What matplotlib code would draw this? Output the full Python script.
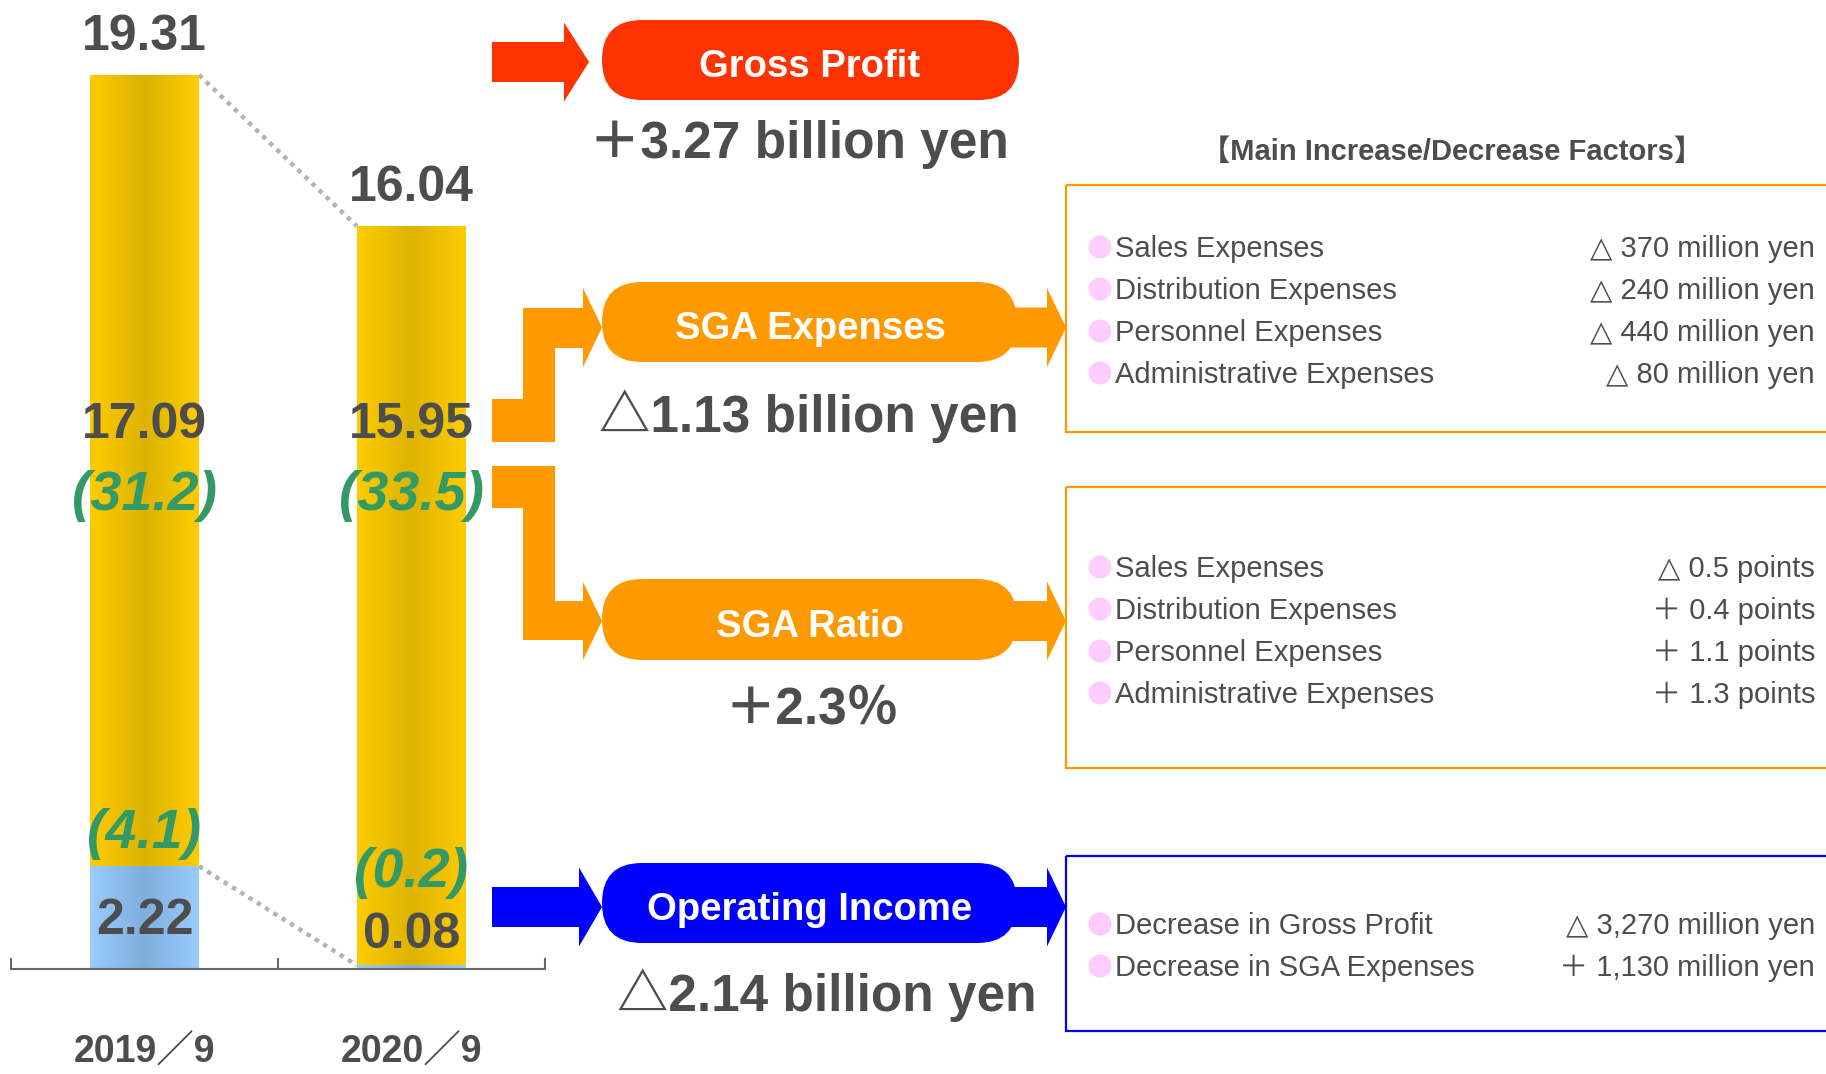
"""Gross profit / SGA / operating income bridge, 2019/9 vs 2020/9."""

import matplotlib
matplotlib.use("Agg")
import matplotlib.pyplot as plt
import numpy as np
from matplotlib.colors import LinearSegmentedColormap
from matplotlib.patches import Circle, FancyBboxPatch, Polygon, Rectangle

# --- data (billion yen, %) ---
periods = ["2019／9", "2020／9"]
gross_profit = [19.31, 16.04]
sga_expenses = [17.09, 15.95]
sga_ratio = [31.2, 33.5]
operating_income = [2.22, 0.08]
operating_margin = [4.1, 0.2]

step_names = ["Gross Profit", "SGA Expenses", "SGA Ratio", "Operating Income"]
step_changes = ["＋3.27 billion yen", "△1.13 billion yen", "＋2.3％", "△2.14 billion yen"]

sga_items = ["Sales Expenses", "Distribution Expenses", "Personnel Expenses", "Administrative Expenses"]
sga_item_changes = ["△ 370 million yen", "△ 240 million yen", "△ 440 million yen", "△ 80 million yen"]
ratio_item_changes = ["△ 0.5 points", "＋ 0.4 points", "＋ 1.1 points", "＋ 1.3 points"]
oi_items = ["Decrease in Gross Profit", "Decrease in SGA Expenses"]
oi_item_changes = ["△ 3,270 million yen", "＋ 1,130 million yen"]

# --- style ---
TEXT = "#4D4D4D"
GREEN = "#339966"
RED = "#FF3300"
ORANGE = "#FF9900"
BLUE = "#0000FF"
PINK = "#FFCCFF"
SANS = ["Liberation Sans", "DejaVu Sans", "Noto Sans CJK JP"]
BIG = ["Liberation Sans", "Noto Sans CJK JP"]

W, H = 1826, 1074
BASE = 969          # pixel row of the bar baseline
PX_PER_UNIT = 46.3  # pixels per billion yen

fig = plt.figure(figsize=(W / 100, H / 100), dpi=100)

# pixel canvas for the diagram part
canvas = fig.add_axes([0, 0, 1, 1])
canvas.set_xlim(0, W)
canvas.set_ylim(H, 0)
canvas.axis("off")

# --- bar chart ---
ax = fig.add_axes([11 / W, (H - BASE) / H, 534 / W, BASE / H])
x = np.arange(len(periods))
width = 0.408
oi = np.array(operating_income)
gp = np.array(gross_profit)
blue_bars = ax.bar(x, oi, width, color="#99CCFF", zorder=2)
gold_bars = ax.bar(x, gp - oi, width, bottom=oi, color="#FFCC00", zorder=2)


def shade(bars, colors):
    cmap = LinearSegmentedColormap.from_list("shade", colors)
    ramp = np.linspace(0, 1, 200)[None, :]
    for bar in bars:
        x0, y0 = bar.get_x(), bar.get_y()
        img = ax.imshow(ramp, cmap=cmap, aspect="auto", interpolation="bilinear",
                        extent=(x0, x0 + bar.get_width(), y0, y0 + bar.get_height()), zorder=2.5)
        img.set_clip_path(bar)


shade(gold_bars, ["#FFCC00", "#DCB300", "#FFCC00"])
shade(blue_bars, ["#99CCFF", "#80AEDD", "#99CCFF"])

dots = dict(color="#B3B3B3", lw=3.2, ls=(0, (1, 1.2)), dash_capstyle="butt", zorder=1)
ax.plot([x[0] + width / 2, x[1] - width / 2], gp, **dots)
ax.plot([x[0] + width / 2, x[1] - width / 2], oi, **dots)

ax.set_xlim(-0.5, 1.5)
ax.set_ylim(0, BASE / PX_PER_UNIT)
ax.patch.set_alpha(0)
for side in ("left", "right", "top"):
    ax.spines[side].set_visible(False)
ax.spines["bottom"].set_color("#666666")
ax.spines["bottom"].set_linewidth(1.5)
ax.set_yticks([])
ax.set_xticks([-0.5, 0.5, 1.5])
ax.tick_params(axis="x", which="major", direction="in", length=8, width=1.5,
               color="#666666", labelbottom=False)
ax.set_xticks(x, periods, minor=True)
ax.tick_params(axis="x", which="minor", length=0, pad=47, labelsize=27, labelcolor=TEXT)
for lbl in ax.get_xticklabels(minor=True):
    lbl.set_fontfamily(SANS)
    lbl.set_fontweight("bold")

num = dict(ha="center", va="baseline", color=TEXT, fontsize=36, fontweight="bold",
           fontfamily=SANS, zorder=5)
pct = dict(ha="center", va="baseline", color=GREEN, fontsize=40, fontweight="bold",
           fontstyle="italic", fontfamily=SANS, zorder=5)
SGA_ROW, RATIO_ROW = 11.47, 9.91
margin_rows = [2.61, 1.77]
oi_rows = [0.76, 0.45]
for i in range(len(periods)):
    ax.annotate(f"{gross_profit[i]:.2f}", (x[i], gross_profit[i]), xytext=(0, 18),
                textcoords="offset points", **num)
    ax.text(x[i], SGA_ROW, f"{sga_expenses[i]:.2f}", **num)
    ax.text(x[i], RATIO_ROW, f"({sga_ratio[i]:.1f})", **pct)
    ax.text(x[i], margin_rows[i], f"({operating_margin[i]:.1f})", **pct)
    ax.text(x[i], oi_rows[i], f"{operating_income[i]:.2f}", **num)

# --- arrows and pills ---
def block_arrow(x0, x1, yc, color, shaft=20, head=39.5, head_len=19):
    pts = [(x0, yc - shaft), (x1 - head_len, yc - shaft), (x1 - head_len, yc - head), (x1, yc),
           (x1 - head_len, yc + head), (x1 - head_len, yc + shaft), (x0, yc + shaft)]
    canvas.add_patch(Polygon(pts, closed=True, fc=color, ec="none"))


def pill(y0, y1, color, x0=602, x1=1017):
    canvas.add_patch(FancyBboxPatch((x0, y0), x1 - x0, y1 - y0,
                                    boxstyle=f"round,pad=0,rounding_size={(y1 - y0) / 2}",
                                    fc=color, ec="none"))


block_arrow(492, 589, 62, RED, head_len=25)
pill(20, 100, RED, x1=1019)

# elbow from the SGA level into the two orange steps
canvas.add_patch(Polygon([(492, 399), (523, 399), (523, 308), (583, 308), (583, 288), (602, 327.5),
                          (583, 367), (583, 348), (555, 348), (555, 442), (492, 442)],
                         closed=True, fc=ORANGE, ec="none"))
canvas.add_patch(Polygon([(492, 466), (555, 466), (555, 601), (583, 601), (583, 582), (602, 621),
                          (583, 660), (583, 640), (523, 640), (523, 508), (492, 508)],
                         closed=True, fc=ORANGE, ec="none"))
block_arrow(990, 1066, 327.5, ORANGE)
pill(282, 362, ORANGE)
block_arrow(990, 1066, 621, ORANGE)
pill(579, 660, ORANGE)

block_arrow(492, 602, 907, BLUE, head_len=23)
block_arrow(990, 1066, 907, BLUE)
pill(863, 943, BLUE)

name_base = [77, 339, 637, 920]
change_x = [799, 809, 812, 827]
change_base = [158, 432, 724, 1011]
for name, change, nb, cx, cb in zip(step_names, step_changes, name_base, change_x, change_base):
    canvas.text(810, nb, name, ha="center", va="baseline", color="white", fontsize=27.5,
                fontweight="bold", fontfamily=BIG)
    canvas.text(cx, cb, change, ha="center", va="baseline", color=TEXT, fontsize=37,
                fontweight="bold", fontfamily=BIG)

# --- factor boxes ---
canvas.text(1452, 160, "【Main Increase/Decrease Factors】", ha="center", va="baseline",
            color=TEXT, fontsize=21, fontweight="bold", fontfamily=SANS)
canvas.add_patch(Rectangle((1066, 185), 800, 247, fill=False, ec=ORANGE, lw=1.6))
canvas.add_patch(Rectangle((1066, 487), 800, 281, fill=False, ec=ORANGE, lw=1.6))
canvas.add_patch(Rectangle((1066, 856), 800, 175, fill=False, ec=BLUE, lw=1.6))


def factor_rows(labels, values, first_base, step=42):
    for k, (lab, val) in enumerate(zip(labels, values)):
        yb = first_base + k * step
        canvas.add_patch(Circle((1100, yb - 10), 11.5, fc=PINK, ec="none"))
        canvas.text(1115, yb, lab, ha="left", va="baseline", color=TEXT, fontsize=21,
                    fontfamily=SANS)
        canvas.text(1815, yb, val, ha="right", va="baseline", color=TEXT, fontsize=21,
                    fontfamily=SANS)


factor_rows(sga_items, sga_item_changes, 257)
factor_rows(sga_items, ratio_item_changes, 577)
factor_rows(oi_items, oi_item_changes, 934)

fig.savefig("out.png", dpi=100)
